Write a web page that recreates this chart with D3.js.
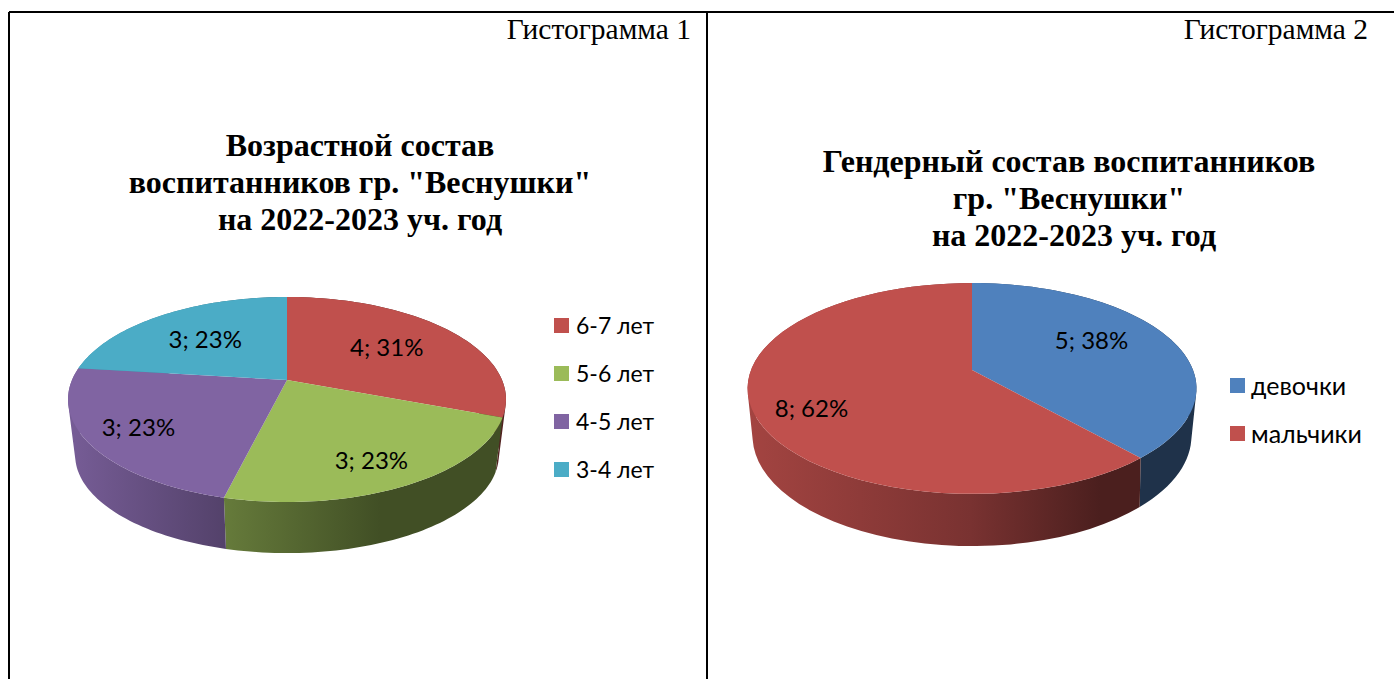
<!DOCTYPE html>
<html>
<head>
<meta charset="utf-8">
<script src="https://cdn.jsdelivr.net/npm/d3@7"></script>
<style>
  html, body { margin: 0; padding: 0; background: #fff; overflow: hidden; }
  .num { font-family: "Liberation Serif", serif; font-size: 29.5px; fill: #000; }
  .title { font-family: "Liberation Serif", serif; font-size: 32px; font-weight: bold; fill: #000; text-anchor: middle; }
  .lbl { font-family: Lato, sans-serif; font-size: 24px; fill: #000; text-anchor: middle; }
  .leg { font-family: Lato, sans-serif; fill: #000; }
</style>
</head>
<body>
<svg id="chart" width="1394" height="679"></svg>
<script>
// chart 1
const ageCategories = ["6-7 лет", "5-6 лет", "4-5 лет", "3-4 лет"];
const ageValues = [4, 3, 3, 3];
const ageColors = ["#c0504d", "#9bbb59", "#8064a2", "#4bacc6"];
const ageTitle = ["Возрастной состав", "воспитанников гр. \"Веснушки\"", "на 2022-2023 уч. год"];

// chart 2
const genderCategories = ["девочки", "мальчики"];
const genderValues = [5, 8];
const genderColors = ["#4f81bd", "#c0504d"];
const genderTitle = ["Гендерный состав воспитанников", "гр. \"Веснушки\"", "на 2022-2023 уч. год"];

const svg = d3.select("#chart");

// the table round the two charts
const rules = [[9, 12, 1394, 12], [9, 12, 9, 679], [707, 12, 707, 679]];
svg.selectAll(".rule").data(rules).enter().append("line")
    .attr("x1", d => d[0]).attr("y1", d => d[1])
    .attr("x2", d => d[2]).attr("y2", d => d[3])
    .attr("stroke", "#000").attr("stroke-width", 2);

// disc in perspective: top rim and bottom rim have their own apex and radii
function projector(g) {
    return (a, r) => {
        const u = r * Math.sin(a), v = -r * Math.cos(a), den = 1 - g.k * v;
        return [g.cx + g.rx * u / den, g.cy + g.ry * v / den];
    };
}

// wall colour = slice colour scaled down, dark towards the right
function scaled(c, f) {
    const b = d3.rgb(c);
    return d3.rgb(b.r * f, b.g * f, b.b * f).formatHex();
}

function drawPie(o) {
    const chart = svg.append("g");
    const total = d3.sum(o.values);
    const arcs = d3.pie().sort(null)(o.values);
    const top = projector(o.top), bottom = projector(o.bottom);
    const line = d3.line();
    const rim = (d, f) => d3.range(0, 61).map(i => f(d.startAngle + (d.endAngle - d.startAngle) * i / 60, 1));

    // wall as small quads, all wound the same way, or the fold at the side of the disc leaves a hole
    const wall = d => {
        const a = rim(d, top), b = rim(d, bottom);
        return d3.range(0, 60).map(i => {
            const q = [a[i], a[i + 1], b[i + 1], b[i]];
            return line(d3.polygonArea(q) < 0 ? q.reverse() : q) + "Z";
        }).join("");
    };

    const defs = svg.append("defs");
    arcs.forEach((d, i) => {
        const grad = defs.append("linearGradient").attr("id", `${o.id}-wall-${i}`)
            .attr("gradientUnits", "userSpaceOnUse")
            .attr("x1", o.shade[0]).attr("x2", o.shade[1]).attr("y1", 0).attr("y2", 0);
        o.shadeStops.forEach(s => {
            grad.append("stop").attr("offset", s[0]).attr("stop-color", scaled(o.colors[i], s[1]));
        });
    });

    chart.selectAll(".wall").data(arcs).enter().append("path")
        .attr("class", "wall")
        .attr("d", wall)
        .attr("fill", (d, i) => `url(#${o.id}-wall-${i})`);

    chart.selectAll(".slice").data(arcs).enter().append("path")
        .attr("class", "slice")
        .attr("d", d => line([[o.top.cx, o.top.cy]].concat(rim(d, top))) + "Z")
        .attr("fill", (d, i) => o.colors[i]);

    chart.selectAll(".lbl").data(arcs).enter().append("text")
        .attr("class", "lbl")
        .attr("transform", (d, i) => {
            const p = top((d.startAngle + d.endAngle) / 2, o.labelR[i]);
            return `translate(${p[0] + o.labelDx[i]},${p[1] + o.labelDy[i]})`;
        })
        .attr("dy", "0.35em")
        .text(d => `${d.value}; ${Math.round(d.value / total * 100)}%`);

    chart.append("text").attr("class", "num")
        .attr("x", o.numX).attr("y", 39).attr("text-anchor", "end").text(o.num);

    chart.append("text").attr("class", "title")
        .selectAll("tspan").data(o.title).enter().append("tspan")
        .attr("x", (d, i) => o.titleX + o.titleDx[i])
        .attr("y", (d, i) => o.titleY + i * 37)
        .text(d => d);

    const leg = chart.selectAll(".legrow").data(o.categories).enter().append("g")
        .attr("class", "legrow")
        .attr("transform", (d, i) => `translate(${o.legX},${o.legY + i * 48})`);
    leg.append("rect").attr("y", -8).attr("width", 15).attr("height", 15).attr("fill", (d, i) => o.colors[i]);
    leg.append("text").attr("class", "leg").attr("x", o.legText).attr("dy", "0.35em")
        .style("font-size", o.legSize + "px").text(d => d);
}

drawPie({
    id: "age", categories: ageCategories, values: ageValues, colors: ageColors, title: ageTitle,
    num: "Гистограмма 1", numX: 691, titleX: 360, titleDx: [0, 0, 0], titleY: 156,
    legX: 554, legY: 326, legText: 22, legSize: 23,
    top: { cx: 287, cy: 380, rx: 215, ry: 98.8, k: 0.19 },
    bottom: { cx: 287, cy: 436.4, rx: 208, ry: 94.5, k: 0.19 },
    shade: [67, 380], shadeStops: [[0, 0.93], [0.5, 0.66], [1, 0.42]],
    labelR: [0.6, 0.77, 0.77, 0.6], labelDx: [0, -4, 0, -3], labelDy: [-1, 3, 0, 0]
});

drawPie({
    id: "gender", categories: genderCategories, values: genderValues, colors: genderColors, title: genderTitle,
    num: "Гистограмма 2", numX: 1368, titleX: 1069, titleDx: [0, 0, 5], titleY: 172,
    legX: 1230, legY: 386, legText: 21, legSize: 25,
    top: { cx: 972, cy: 370, rx: 221, ry: 102.2, k: 0.175 },
    bottom: { cx: 972, cy: 414, rx: 215, ry: 105.7, k: 0.2 },
    shade: [750, 1100], shadeStops: [[0, 0.85], [0.63, 0.63], [1, 0.39]],
    labelR: [0.6, 0.75], labelDx: [0, 2], labelDy: [-8, 10]
});
</script>
</body>
</html>
